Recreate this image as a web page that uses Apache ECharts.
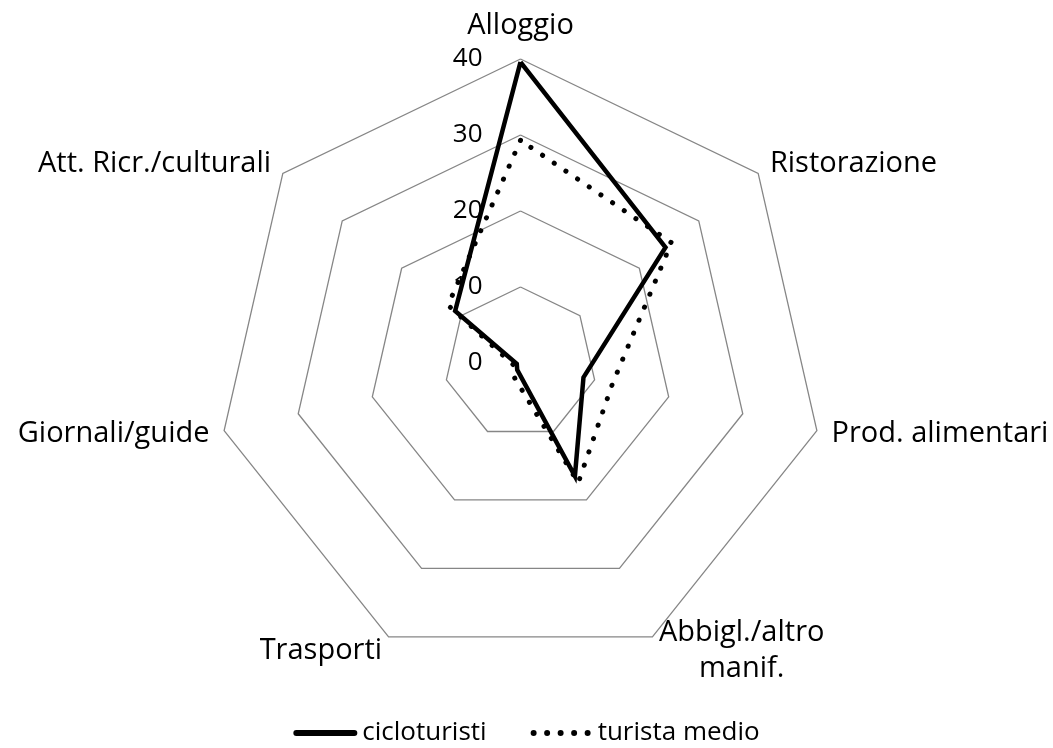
<!DOCTYPE html>
<html>
<head>
<meta charset="utf-8">
<script src="https://cdn.jsdelivr.net/npm/echarts@6/dist/echarts.min.js"></script>
<style>
html,body{margin:0;padding:0;background:#fff;}
#chart{width:1053px;height:748px;}
</style>
</head>
<body>
<div id="chart"></div>
<script>
// Categories listed clockwise from the top, as in the reference
const categories = ['Alloggio', 'Ristorazione', 'Prod. alimentari', 'Abbigl./altro\nmanif.', 'Trasporti', 'Giornali/guide', 'Att. Ricr./culturali'];
const seriesNames = ['cicloturisti', 'turista medio'];
const cicloturisti = [39.6, 24.4, 8.5, 16.5, 1.0, 0.5, 11.0];
const turistaMedio = [29.3, 25.4, 12.4, 17.5, 2.0, 1.0, 12.2];
const axisMax = 40;
const axisMin = 0;
const splitCount = 4;

// ECharts radar runs counter-clockwise: reorder so that the picture runs clockwise
const order = [0].concat(categories.slice(1).map((_, i) => categories.length - 1 - i));
const reorder = arr => order.map(i => arr[i]);

const FONT = 'Open Sans';
// legend icons: solid bar and five round dots (64 x 6 boxes)
const solidIcon = 'path://M3,0H61A3,3 0 0 1 61,6H3A3,3 0 0 1 3,0Z';
let dots = '';
for (let k = 0; k < 5; k++) {
  const cx = 5 + k * 13.5;
  dots += 'M' + (cx - 3) + ',3A3,3 0 1 0 ' + (cx + 3) + ',3A3,3 0 1 0 ' + (cx - 3) + ',3Z';
}
const dotIcon = 'path://' + dots;

const chart = echarts.init(document.getElementById('chart'));
chart.setOption({
  backgroundColor: '#fff',
  animation: false,
  textStyle: { fontFamily: FONT },
  legend: {
    top: 715,
    left: 'center',
    itemWidth: 64,
    itemHeight: 6,
    itemGap: 44,
    textStyle: { fontSize: 26, color: '#000', fontFamily: FONT },
    data: [
      { name: seriesNames[0], icon: solidIcon },
      { name: seriesNames[1], icon: dotIcon }
    ]
  },
  radar: {
    center: ['49.43%', '48.53%'],
    radius: 304,
    startAngle: 90,
    splitNumber: splitCount,
    shape: 'polygon',
    nameGap: 15,
    axisName: {
      color: '#000', fontSize: 29, fontFamily: FONT, lineHeight: 36,
      formatter: name => name.split('\n').map(s => '{c|' + s + '}').join('\n'),
      rich: { c: { align: 'center', color: '#000', fontSize: 29, fontFamily: FONT, lineHeight: 36 } }
    },
    axisLine: { show: false },
    axisTick: { show: false },
    splitArea: { show: false },
    splitLine: { lineStyle: { color: '#868686', width: 1.3 } },
    axisLabel: { show: false },
    indicator: reorder(categories).map((c, i) => {
      const o = { name: c, max: axisMax, min: axisMin };
      if (i === 0) o.axisLabel = { show: true, color: '#000', fontSize: 26, fontFamily: FONT, margin: 38, showMinLabel: true };
      return o;
    })
  },
  series: [{
    type: 'radar',
    symbol: 'none',
    data: [
      { name: seriesNames[0], value: reorder(cicloturisti),
        lineStyle: { color: '#000', width: 4.5, type: 'solid', join: 'miter' },
        itemStyle: { color: '#000' } },
      { name: seriesNames[1], value: reorder(turistaMedio),
        lineStyle: { color: '#000', width: 5, type: [0.1, 14], cap: 'round' },
        itemStyle: { color: '#000' } }
    ]
  }]
});
</script>
</body>
</html>
